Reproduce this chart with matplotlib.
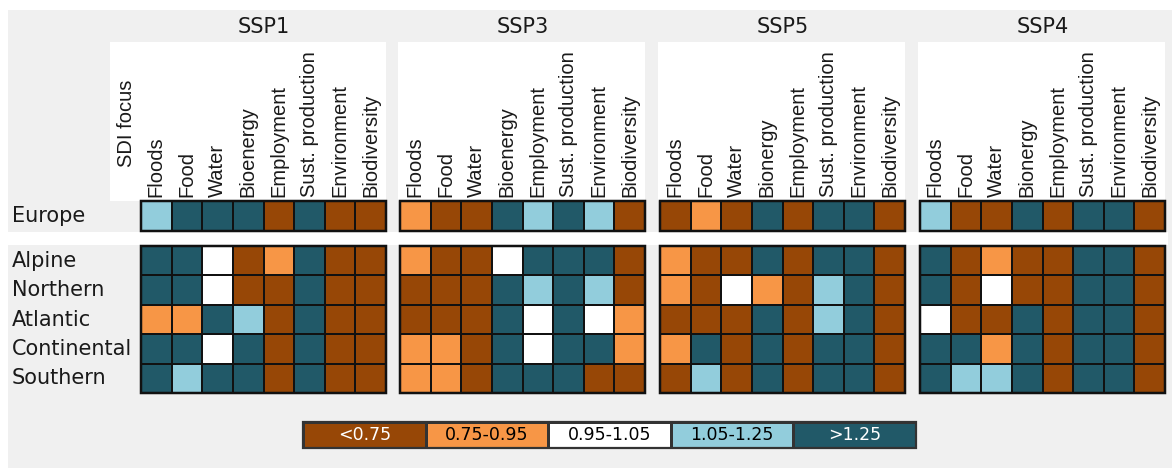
import matplotlib
matplotlib.use("Agg")
import matplotlib.pyplot as plt
import numpy as np
from matplotlib.colors import ListedColormap, BoundaryNorm
from matplotlib.patches import Rectangle

# ---------------- data ----------------
scenarios = ["SSP1", "SSP3", "SSP5", "SSP4"]
regions = ["Alpine", "Northern", "Atlantic", "Continental", "Southern"]
europe_label = "Europe"
columns_ssp1 = ["Floods", "Food", "Water", "Bioenergy", "Employment", "Sust. production", "Environment", "Biodiversity"]
columns_ssp3 = ["Floods", "Food", "Water", "Bioenergy", "Employment", "Sust. production", "Environment", "Biodiversity"]
columns_ssp5 = ["Floods", "Food", "Water", "Bionergy", "Employment", "Sust. production", "Environment", "Biodiversity"]
columns_ssp4 = ["Floods", "Food", "Water", "Bionergy", "Employment", "Sust. production", "Environment", "Biodiversity"]
class_labels = ["<0.75", "0.75-0.95", "0.95-1.05", "1.05-1.25", ">1.25"]
class_colors = ["#974706", "#F79646", "#FFFFFF", "#92CDDC", "#215968"]
class_text_colors = ["white", "black", "black", "black", "white"]

# class index: 0 <0.75, 1 0.75-0.95, 2 0.95-1.05, 3 1.05-1.25, 4 >1.25
europe_ssp1 = [3, 4, 4, 4, 0, 4, 0, 0]
regions_ssp1 = [[4, 4, 2, 0, 1, 4, 0, 0],
                [4, 4, 2, 0, 0, 4, 0, 0],
                [1, 1, 4, 3, 0, 4, 0, 0],
                [4, 4, 2, 4, 0, 4, 0, 0],
                [4, 3, 4, 4, 0, 4, 0, 0]]
europe_ssp3 = [1, 0, 0, 4, 3, 4, 3, 0]
regions_ssp3 = [[1, 0, 0, 2, 4, 4, 4, 0],
                [0, 0, 0, 4, 3, 4, 3, 0],
                [0, 0, 0, 4, 2, 4, 2, 1],
                [1, 1, 0, 4, 2, 4, 4, 1],
                [1, 1, 0, 4, 4, 4, 0, 0]]
europe_ssp5 = [0, 1, 0, 4, 0, 4, 4, 0]
regions_ssp5 = [[1, 0, 0, 4, 0, 4, 4, 0],
                [1, 0, 2, 1, 0, 3, 4, 0],
                [0, 0, 0, 4, 0, 3, 4, 0],
                [1, 4, 0, 4, 0, 4, 4, 0],
                [0, 3, 0, 4, 0, 4, 4, 0]]
europe_ssp4 = [3, 0, 0, 4, 0, 4, 4, 0]
regions_ssp4 = [[4, 0, 1, 0, 0, 4, 4, 0],
                [4, 0, 2, 0, 0, 4, 4, 0],
                [2, 0, 0, 4, 0, 4, 4, 0],
                [4, 4, 1, 4, 0, 4, 4, 0],
                [4, 3, 3, 4, 0, 4, 4, 0]]

europe_data = [europe_ssp1, europe_ssp3, europe_ssp5, europe_ssp4]
region_data = [regions_ssp1, regions_ssp3, regions_ssp5, regions_ssp4]
column_labels = [columns_ssp1, columns_ssp3, columns_ssp5, columns_ssp4]

# ---------------- layout ----------------
W, H = 1172, 468
fig = plt.figure(figsize=(W / 100, H / 100), dpi=100)
fig.patch.set_facecolor("white")
FONT = "DejaVu Sans"
LFONT = "Liberation Sans"


def box(x0, y0, x1, y1):
    return [x0 / W, 1 - y1 / H, (x1 - x0) / W, (y1 - y0) / H]


def add_rect(x0, y0, x1, y1, color, z=-10):
    fig.patches.append(Rectangle((x0 / W, 1 - y1 / H), (x1 - x0) / W, (y1 - y0) / H,
                                 transform=fig.transFigure, facecolor=color,
                                 edgecolor="none", zorder=z))


add_rect(8, 10, W, H, "#F0F0F0", z=-10)
# white band between Europe row and regions
add_rect(8, 232, W - 4, 245, "white", z=-9)

cmap = ListedColormap(class_colors)
norm = BoundaryNorm(np.arange(-0.5, 5.5, 1), cmap.N)

panel_x0 = [141, 400, 660, 920]
panel_w = 245
eu_y0, eu_y1 = 201, 231
rg_y0, rg_y1 = 246, 393


def grid_axes(x0, y0, x1, y1, data, nrows, ncols, lw=1.2, edge="#111111"):
    ax = fig.add_axes(box(x0, y0, x1, y1))
    ax.set_zorder(5)
    ax.patch.set_alpha(0)
    ax.pcolormesh(np.array(data), cmap=cmap, norm=norm, edgecolors=edge, linewidth=lw)
    ax.set_xlim(0, ncols); ax.set_ylim(nrows, 0)
    ax.set_axis_off()
    ax.add_patch(Rectangle((0, 0), ncols, nrows, fill=False, edgecolor=edge,
                           lw=lw + 0.6, clip_on=False))
    return ax


for k, name in enumerate(scenarios):
    x0 = panel_x0[k]
    x1 = x0 + panel_w
    hx0 = 110 if k == 0 else x0 - 2
    add_rect(hx0, 42, x1, eu_y0, "white", z=-9)
    fig.text((x0 + x1) / 2 / W, 1 - 27 / H, name, ha="center", va="center",
             fontsize=15, family=FONT, color="#1a1a1a")

    grid_axes(x0, eu_y0, x1, eu_y1, [europe_data[k]], 1, 8)
    grid_axes(x0, rg_y0, x1, rg_y1, region_data[k], 5, 8)

    # column labels
    cw = panel_w / 8
    for j, lab in enumerate(column_labels[k]):
        cx = x0 + cw * (j + 0.5)
        fig.text(cx / W, 1 - 197 / H, lab, rotation=90, ha="center", va="bottom",
                 fontsize=14.5, family=LFONT, color="#1a1a1a", zorder=3)

# SDI focus label
fig.text(126 / W, 1 - 167 / H, "SDI focus", rotation=90, ha="center", va="bottom",
         fontsize=14.5, family=LFONT, color="#1a1a1a", zorder=3)

# row labels
fig.text(12 / W, 1 - 216 / H, europe_label, ha="left", va="center",
         fontsize=15, family=FONT, color="#1a1a1a")
rh = (rg_y1 - rg_y0) / 5
for i, r in enumerate(regions):
    fig.text(12 / W, 1 - (rg_y0 + rh * (i + 0.5)) / H, r, ha="left", va="center",
             fontsize=15, family=FONT, color="#1a1a1a")

# legend
lax = grid_axes(303, 422, 916, 448, [np.arange(5)], 1, 5, lw=1.0, edge="#333333")
for i, lab in enumerate(class_labels):
    lax.text(i + 0.5, 0.5, lab, ha="center", va="center", fontsize=12.5,
             family=FONT, color=class_text_colors[i])

fig.savefig("out.png", dpi=100, facecolor=fig.get_facecolor())
